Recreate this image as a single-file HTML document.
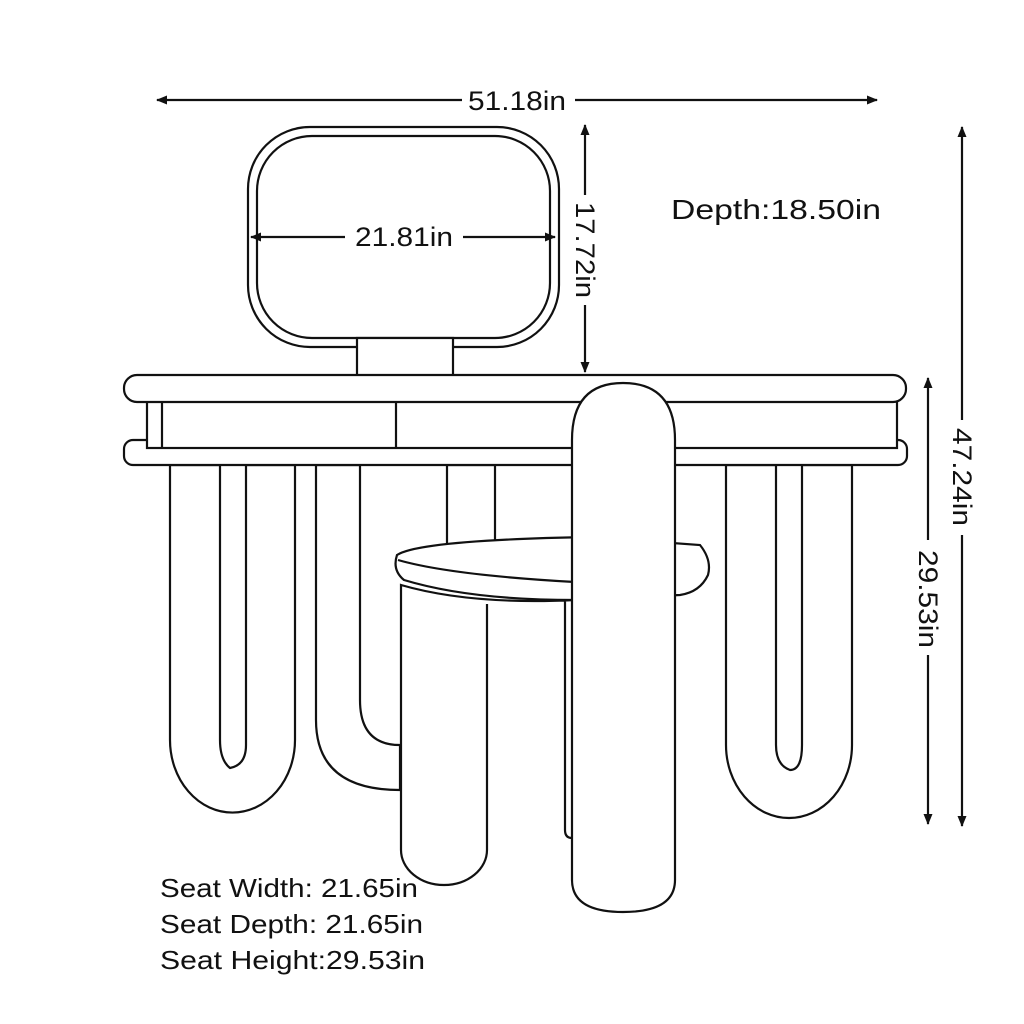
<!DOCTYPE html>
<html><head><style>
html,body{margin:0;padding:0;background:#fff;}
svg{display:block;}
text{font-family:"Liberation Sans",sans-serif;fill:#111;}
</style></head><body>
<svg width="1024" height="1024" viewBox="0 0 1024 1024" xmlns="http://www.w3.org/2000/svg">
<defs>
<marker id="a" markerWidth="12" markerHeight="12" refX="10" refY="6" orient="auto-start-reverse" markerUnits="userSpaceOnUse"><path d="M0,1.5 L11,6 L0,10.5 z" fill="#111"/></marker>
</defs>
<g fill="#fff" stroke="#111" stroke-width="2.2">
<rect x="248" y="127" width="311" height="220" rx="62"/>
<rect x="257" y="136" width="293" height="202" rx="55"/>
<rect x="357" y="338" width="96" height="40"/>
<path d="M170,465 V740 A62,72 0 0 0 295,740 V465 H246 V745 Q246,765 230,768 Q220,760 220,740 V465 Z"/>
<path d="M316,465 V720 Q316,790 400,790 V745 Q360,745 360,700 V465 Z"/>
<rect x="447" y="465" width="48" height="85"/>
<path d="M726,465 V745 A63,73 0 0 0 852,745 V465 H802 V745 Q802,770 790,770 Q776,765 776,745 V465 Z"/>
<rect x="124" y="440" width="783" height="25" rx="9"/>
<rect x="147" y="398" width="750" height="50"/>
<line x1="162" y1="400" x2="162" y2="448"/>
<line x1="396" y1="400" x2="396" y2="448"/>
<rect x="124" y="375" width="782" height="27" rx="13"/>
<path d="M397,555 Q420,540 590,537 L700,545 Q712,560 708,575 Q700,592 680,595 L575,600 Q470,600 404,580 Q392,570 397,555 Z"/>
<path d="M398,560 Q450,575 575,582"/>
<path d="M401,585 Q470,605 575,600 V840 H487 V850 A43,35 0 0 1 401,850 Z" stroke="none"/>
<path d="M401,850 V585 Q470,605 575,600 M401,850 A43,35 0 0 0 487,850 V604 M565,600 V830 Q565,838 572,838" fill="none"/>
<path d="M572,440 Q572,383 623,383 Q675,383 675,440 V880 Q675,912 623,912 Q572,912 572,880 Z"/>
</g>
<g stroke="#111" stroke-width="2.2" fill="none">
<line x1="157" y1="100" x2="462" y2="100" marker-start="url(#a)"/>
<line x1="575" y1="100" x2="877" y2="100" marker-end="url(#a)"/>
<line x1="251" y1="237" x2="345" y2="237" marker-start="url(#a)"/>
<line x1="463" y1="237" x2="555" y2="237" marker-end="url(#a)"/>
<line x1="585" y1="125" x2="585" y2="195" marker-start="url(#a)"/>
<line x1="585" y1="305" x2="585" y2="372" marker-end="url(#a)"/>
<line x1="962" y1="127" x2="962" y2="420" marker-start="url(#a)"/>
<line x1="962" y1="535" x2="962" y2="826" marker-end="url(#a)"/>
<line x1="928" y1="378" x2="928" y2="540" marker-start="url(#a)"/>
<line x1="928" y1="655" x2="928" y2="824" marker-end="url(#a)"/>
</g>
<text x="468" y="110" font-size="27" textLength="98" lengthAdjust="spacingAndGlyphs">51.18in</text>
<text x="355" y="246" font-size="27" textLength="98" lengthAdjust="spacingAndGlyphs">21.81in</text>
<text transform="translate(576,202) rotate(90)" font-size="27" textLength="96" lengthAdjust="spacingAndGlyphs">17.72in</text>
<text transform="translate(953,428) rotate(90)" font-size="27" textLength="98" lengthAdjust="spacingAndGlyphs">47.24in</text>
<text transform="translate(919,550) rotate(90)" font-size="27" textLength="98" lengthAdjust="spacingAndGlyphs">29.53in</text>
<text x="671" y="219" font-size="28" textLength="210" lengthAdjust="spacingAndGlyphs">Depth:18.50in</text>
<text x="160" y="897" font-size="26" textLength="258" lengthAdjust="spacingAndGlyphs">Seat Width: 21.65in</text>
<text x="160" y="933" font-size="26" textLength="263" lengthAdjust="spacingAndGlyphs">Seat Depth: 21.65in</text>
<text x="160" y="969" font-size="26" textLength="265" lengthAdjust="spacingAndGlyphs">Seat Height:29.53in</text>
</svg>
</body></html>
